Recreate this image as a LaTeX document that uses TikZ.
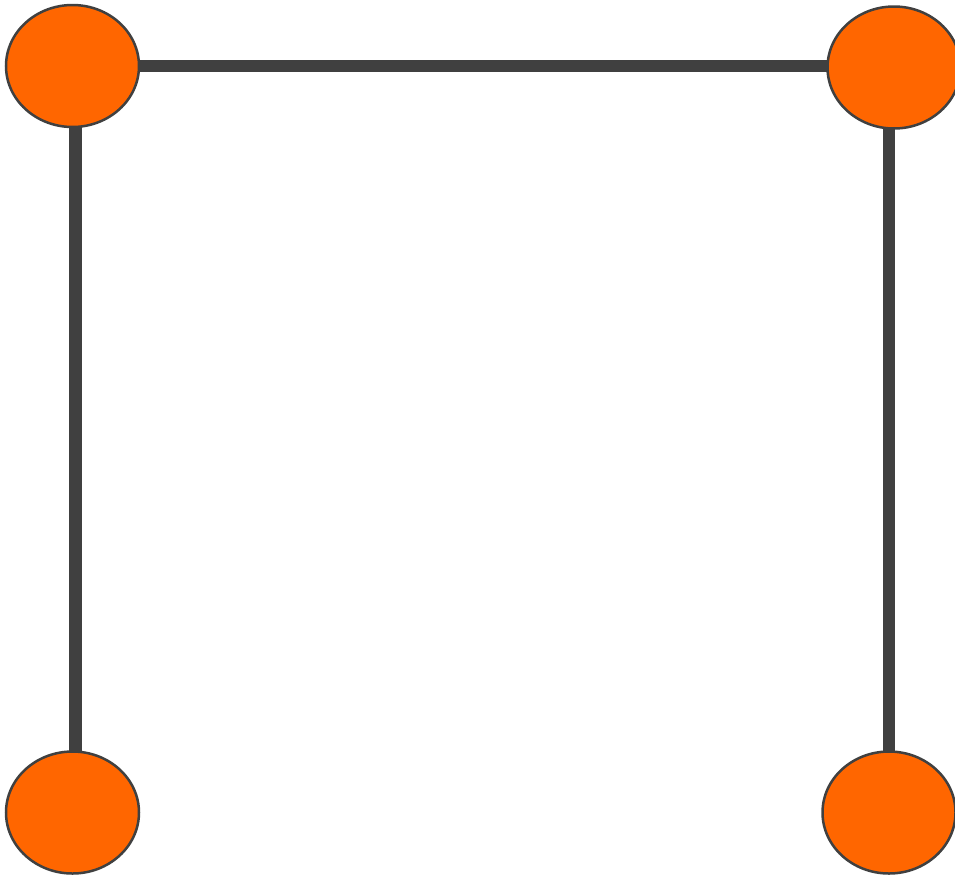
\documentclass[tikz,border=0pt]{standalone}
\usepackage{xcolor}
\usepackage{tikz}
\usetikzlibrary{positioning,shapes.geometric,backgrounds}
\definecolor{vertexorange}{HTML}{FF6600}
\definecolor{edgegray}{HTML}{404040}

\begin{document}
\begin{tikzpicture}[x=1pt, y=-1pt,
  vertex/.style={draw=edgegray, line width=2.5pt, fill=vertexorange, ellipse,
    minimum width=\vw, minimum height=\vh, inner sep=0pt},
  edge/.style={draw=edgegray, line width=12.5pt}]
  \def\vw{133pt}
  \def\vh{122pt}
  \useasboundingbox (0,0) rectangle (955,876);

  \node[vertex] (tl) at (72.5,66) {};
  \node[vertex] (tr) at (894,67.5) {};
  \node[vertex] (bl) at (72.5,812.5) {};
  \node[vertex] (br) at (889,812.5) {};

  \begin{scope}[on background layer]
    \draw[edge] (tl.center) -- (tr.center |- tl.center);
    \draw[edge] ([xshift=3pt]tl.center) -- ([xshift=3pt]bl.center);
    \draw[edge] (br.center |- tr.center) -- (br.center);
  \end{scope}
\end{tikzpicture}
\end{document}
